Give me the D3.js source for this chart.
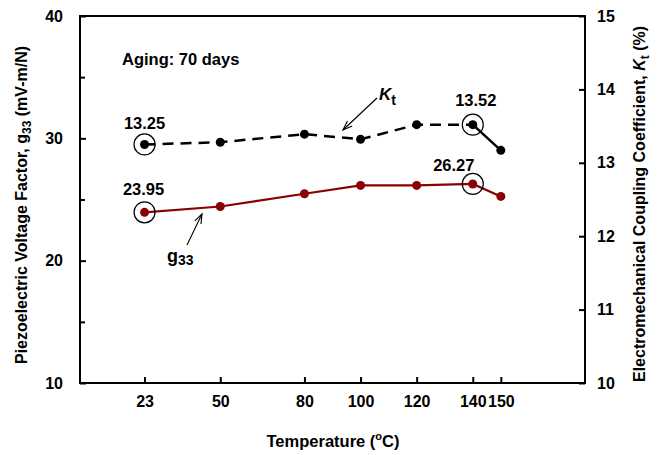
<!DOCTYPE html>
<html><head><meta charset="utf-8">
<script src="https://cdn.jsdelivr.net/npm/d3@7"></script>
<style>body{margin:0;background:#fff}svg{font-family:"Liberation Sans",Arial,sans-serif;font-weight:bold}</style>
</head><body>
<script>
const temps = [23, 50, 80, 100, 120, 140, 150];
const xTicks = [23, 50, 80, 100, 120, 140, 150];
const g33 = [23.95, 24.43, 25.47, 26.15, 26.15, 26.27, 25.25];
const kt = [13.25, 13.28, 13.39, 13.32, 13.52, 13.52, 13.17];
const leftTicks = [10, 20, 30, 40];
const leftMinor = [15, 25, 35];
const rightTicks = [10, 11, 12, 13, 14, 15];

const W = 662, H = 455;
const svg = d3.select("body").append("svg").attr("width", W).attr("height", H);
const L = 80, R = 585, T = 16, B = 383;
const x = d3.scaleLinear().domain([0, 180]).range([L, R]);
const yL = d3.scaleLinear().domain([10, 40]).range([B, T]);
const yR = d3.scaleLinear().domain([10, 15]).range([B, T]);

// frame
svg.append("rect").attr("x", L).attr("y", T).attr("width", R - L).attr("height", B - T)
  .attr("fill", "none").attr("stroke", "#000").attr("stroke-width", 2);

// axes
const ax = svg.append("g").attr("transform", `translate(0,${B})`)
  .call(d3.axisBottom(x).tickValues(xTicks).tickSizeInner(-6).tickSizeOuter(0).tickPadding(13));
const ay = svg.append("g").attr("transform", `translate(${L},0)`)
  .call(d3.axisLeft(yL).tickValues(leftTicks).tickSizeInner(-6).tickSizeOuter(0).tickPadding(17));
svg.append("g").attr("transform", `translate(${L},0)`)
  .call(d3.axisLeft(yL).tickValues(leftMinor).tickSizeInner(-5).tickSizeOuter(0).tickFormat(""));
const ar = svg.append("g").attr("transform", `translate(${R},0)`)
  .call(d3.axisRight(yR).tickValues(rightTicks).tickFormat(d3.format("d")).tickSizeInner(-6).tickSizeOuter(0).tickPadding(12));
svg.selectAll(".domain").remove();
svg.selectAll(".tick line").attr("stroke", "#000").attr("stroke-width", 2);
svg.selectAll(".tick text").attr("font-size", 16).attr("font-weight", "bold")
  .attr("font-family", "Liberation Sans, Arial, sans-serif").attr("fill", "#000");
ax.selectAll(".tick text").attr("dy", "0.71em");

// Kt line: dashed up to 140, solid 140-150
const ktPts = temps.map((t, i) => [x(t), yR(kt[i])]);
const line = d3.line();
svg.append("path").attr("d", line(ktPts.slice(0, 6))).attr("fill", "none")
  .attr("stroke", "#000").attr("stroke-width", 2.5).attr("stroke-dasharray", "11,7");
svg.append("path").attr("d", line(ktPts.slice(5))).attr("fill", "none")
  .attr("stroke", "#000").attr("stroke-width", 2.5);
svg.selectAll(".ktdot").data(ktPts).enter().append("circle")
  .attr("cx", d => d[0]).attr("cy", d => d[1]).attr("r", 4.5).attr("fill", "#000");

// g33 line
const gPts = temps.map((t, i) => [x(t), yL(g33[i])]);
svg.append("path").attr("d", line(gPts)).attr("fill", "none")
  .attr("stroke", "#8b0000").attr("stroke-width", 2.2);
svg.selectAll(".gdot").data(gPts).enter().append("circle")
  .attr("cx", d => d[0]).attr("cy", d => d[1]).attr("r", 4.5).attr("fill", "#8b0000");

// highlight circles
[[0, ktPts], [5, ktPts], [0, gPts], [5, gPts]].forEach(([i, pts]) => {
  svg.append("circle").attr("cx", pts[i][0]).attr("cy", pts[i][1]).attr("r", 10.5)
    .attr("fill", "none").attr("stroke", "#000").attr("stroke-width", 1.2);
});

// value labels
const lab = (tx, ty, s, anchor = "middle", fs = 16.5) => svg.append("text").attr("x", tx).attr("y", ty)
  .attr("text-anchor", anchor).attr("font-size", fs).text(s);
lab(ktPts[0][0] + 0, ktPts[0][1] - 15, kt[0].toFixed(2));
lab(gPts[0][0] - 1, gPts[0][1] - 17, g33[0].toFixed(2));
lab(ktPts[5][0] + 3, ktPts[5][1] - 19, kt[5].toFixed(2));
lab(gPts[5][0] - 19, gPts[5][1] - 12.5, g33[5].toFixed(2));

lab(122, 65, "Aging: 70 days", "start", 16.5);

// arrows
function arrow(x1, y1, x2, y2) {
  svg.append("line").attr("x1", x1).attr("y1", y1).attr("x2", x2).attr("y2", y2)
    .attr("stroke", "#000").attr("stroke-width", 1.1);
  const a = Math.atan2(y2 - y1, x2 - x1), len = 10, sp = 0.35;
  const p = d3.path();
  p.moveTo(x2 - len * Math.cos(a - sp), y2 - len * Math.sin(a - sp));
  p.lineTo(x2, y2);
  p.lineTo(x2 - len * Math.cos(a + sp), y2 - len * Math.sin(a + sp));
  svg.append("path").attr("d", p.toString()).attr("fill", "none").attr("stroke", "#000").attr("stroke-width", 1.1);
}
arrow(377, 98, 343, 130);
arrow(187, 245, 202, 214);

// Kt label
const kt_t = svg.append("text").attr("x", 379).attr("y", 100).attr("font-size", 17);
kt_t.append("tspan").attr("font-style", "italic").text("K");
kt_t.append("tspan").attr("font-size", 14).attr("dy", 5).text("t");
// g33 label
const g_t = svg.append("text").attr("x", 167).attr("y", 262).attr("font-size", 18);
g_t.append("tspan").text("g");
g_t.append("tspan").attr("font-size", 14).attr("dy", 3).text("33");

// axis titles
const xt = svg.append("text").attr("x", 333).attr("y", 447).attr("text-anchor", "middle").attr("font-size", 16.5);
xt.append("tspan").text("Temperature  (");
xt.append("tspan").attr("font-size", 11).attr("dy", -7).text("o");
xt.append("tspan").attr("dy", 7).text("C)");

const yt = svg.append("text").attr("transform", "translate(27,205) rotate(-90)")
  .attr("text-anchor", "middle").attr("font-size", 16);
yt.append("tspan").text("Piezoelectric Voltage Factor, g");
yt.append("tspan").attr("font-size", 12).attr("dy", 4).text("33");
yt.append("tspan").attr("dy", -4).text(" (mV-m/N)");

const rt = svg.append("text").attr("transform", "translate(645,204) rotate(-90)")
  .attr("text-anchor", "middle").attr("font-size", 16);
rt.append("tspan").text("Electromechanical Coupling Coefficient, ");
rt.append("tspan").attr("font-style", "italic").text("K");
rt.append("tspan").attr("font-size", 12).attr("dy", 4).text("t");
rt.append("tspan").attr("dy", -4).text(" (%)");
</script>
</body></html>
